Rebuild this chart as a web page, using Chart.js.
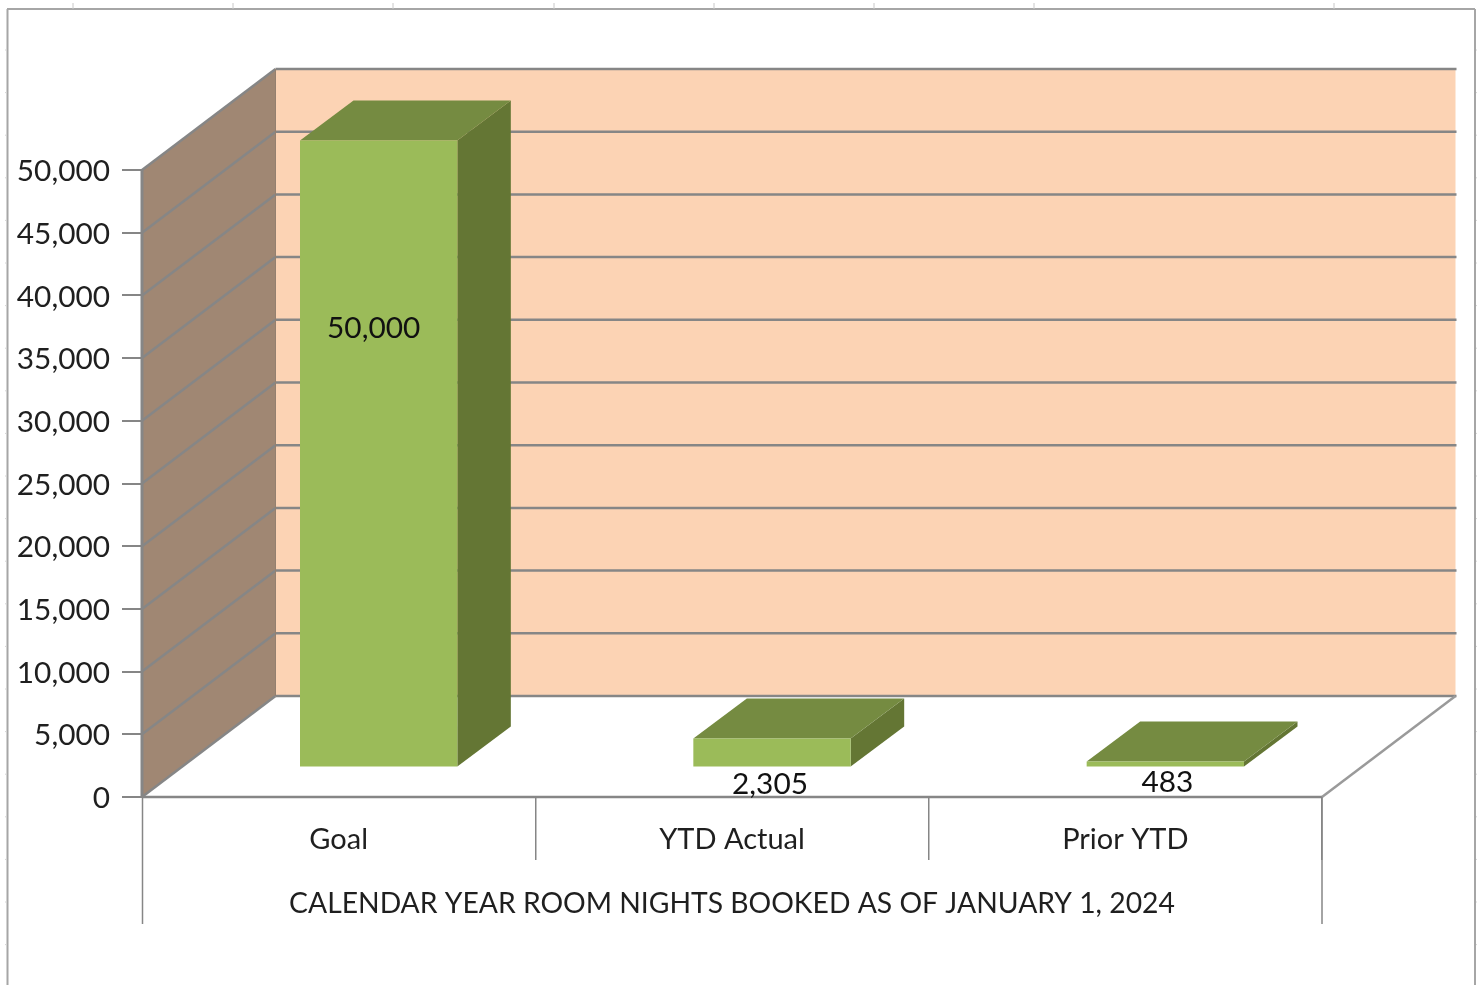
<!DOCTYPE html>
<html>
<head>
<meta charset="utf-8">
<title>Room nights booked</title>
<script src="https://cdn.jsdelivr.net/npm/chart.js@4"></script>
<style>
  html, body { margin: 0; padding: 0; background: #fff; overflow: hidden; }
  canvas { display: block; }
</style>
</head>
<body>
<canvas id="myCanvas" width="1477" height="985"></canvas>
<script>
const categories = ["Goal", "YTD Actual", "Prior YTD"];
const roomNights = [50000, 2305, 483];
const groupLabel = "CALENDAR YEAR ROOM NIGHTS BOOKED AS OF JANUARY 1, 2024";

const fontFamily = "Lato";
const fontSize = 29;
const valueFontSize = 29.8;
const groupFontSize = 28.3;
const textColor = "#1f1f1f";
const lineColor = "#868686";

// the 3d box the plot sits in, relative to the chart area
const wallDepth = { x: 133.5, y: -101 };
const barShift = { x: 40, y: -29.5 };
const barDepth = { x: 53.5, y: -40 };
// data label position, relative to the top centre of each bar front
const labelShift = [[-5, 188], [-2, 46], [2, 21]];

function line(ctx, x1, y1, x2, y2, width, color) {
  ctx.beginPath();
  ctx.moveTo(x1, y1);
  ctx.lineTo(x2, y2);
  ctx.lineWidth = width;
  ctx.strokeStyle = color || lineColor;
  ctx.stroke();
}

function poly(ctx, points, color) {
  ctx.beginPath();
  points.forEach((p, i) => (i ? ctx.lineTo(p[0], p[1]) : ctx.moveTo(p[0], p[1])));
  ctx.closePath();
  ctx.fillStyle = color;
  ctx.fill();
}

const frame3d = {
  id: "frame3d",
  beforeDraw(chart) {
    const ctx = chart.ctx;
    // outer chart frame, cut off at the bottom of the picture
    ctx.save();
    line(ctx, 7.5, 985, 7.5, 9, 2, "#a6a6a6");
    line(ctx, 7, 9, 1475, 9, 2, "#a6a6a6");
    line(ctx, 1475, 9, 1475, 985, 2, "#a6a6a6");
    [73, 233, 393, 554, 714, 874, 1034, 1334].forEach((x) => line(ctx, x, 3, x, 9, 1, "#c8c8c8"));
    for (let y = 50; y < 985; y += 42.6) {
      line(ctx, 5, y, 7, y, 1, "#d4d4d4");
      line(ctx, 1476, y, 1477, y, 1, "#d4d4d4");
    }
    ctx.restore();
  },
  beforeDatasetsDraw(chart) {
    const ctx = chart.ctx;
    const { left, right, top, bottom } = chart.chartArea;
    const dx = wallDepth.x;
    const dy = wallDepth.y;
    const yScale = chart.scales.y;
    ctx.save();
    // back wall, side wall
    poly(ctx, [[left + dx, top + dy], [right + dx, top + dy], [right + dx, bottom + dy], [left + dx, bottom + dy]], "#fcd3b4");
    poly(ctx, [[left, top], [left + dx, top + dy], [left + dx, bottom + dy], [left, bottom]], "#a08773");
    yScale.ticks.forEach((t) => {
      const y = yScale.getPixelForValue(t.value);
      line(ctx, left, y, left + dx, y + dy, 2.5);
      line(ctx, left + dx, y + dy, right + dx + 1, y + dy, 2.5);
    });
    // box outline
    line(ctx, left, top, left, bottom, 3);
    line(ctx, left + dx, top + dy, left + dx, bottom + dy, 1, "#94806f");
    line(ctx, left, bottom, right, bottom, 2.5);
    line(ctx, right, bottom, right + dx, bottom + dy, 2.5, "#9a9a9a");
    // outer dividers running down to the group label
    line(ctx, left + 0.5, bottom, left + 0.5, 924, 1.5);
    line(ctx, right, bottom, right, 924, 1.5);
    ctx.restore();
  },
  beforeDatasetDraw(chart, args) {
    const ctx = chart.ctx;
    ctx.save();
    ctx.translate(barShift.x, barShift.y);
    // top and side of each bar go behind the library's bar front
    args.meta.data.forEach((bar) => {
      const l = bar.x - bar.width / 2;
      const r = bar.x + bar.width / 2;
      const dx = barDepth.x;
      const dy = barDepth.y;
      poly(ctx, [[r, bar.y], [r + dx, bar.y + dy], [r + dx, bar.base + dy], [r, bar.base]], "#647634");
      poly(ctx, [[l, bar.y], [l + dx, bar.y + dy], [r + dx, bar.y + dy], [r, bar.y]], "#758b41");
    });
  },
  afterDatasetDraw(chart, args) {
    const ctx = chart.ctx;
    ctx.font = valueFontSize + "px " + fontFamily;
    ctx.fillStyle = "#111";
    ctx.textAlign = "center";
    ctx.textBaseline = "middle";
    args.meta.data.forEach((bar, i) => {
      ctx.fillText(roomNights[i].toLocaleString("en-US"), bar.x + labelShift[i][0], bar.y + labelShift[i][1]);
    });
    ctx.restore();
  },
};

new Chart(document.getElementById("myCanvas").getContext("2d"), {
  type: "bar",
  data: {
    labels: categories,
    datasets: [
      {
        data: roomNights,
        backgroundColor: "#9bbb59",
        borderWidth: 0,
        categoryPercentage: 1,
        barPercentage: 0.4,
        clip: false,
      },
    ],
  },
  plugins: [frame3d],
  options: {
    responsive: false,
    animation: false,
    layout: { padding: { left: 0, top: 170, right: 155, bottom: 0 } },
    plugins: { legend: { display: false }, tooltip: { enabled: false } },
    font: { family: fontFamily, size: fontSize },
    scales: {
      x: {
        afterFit(scale) {
          scale.height = 188;
        },
        border: { display: false },
        grid: {
          drawOnChartArea: false,
          tickLength: 63,
          lineWidth: 1.5,
          // first and last are the taller outer dividers, drawn by the plugin
          color: (c) => (c.index === 0 || c.index === categories.length ? "transparent" : lineColor),
        },
        ticks: {
          color: textColor,
          font: { family: fontFamily, size: fontSize },
          padding: -38,
          maxRotation: 0,
          autoSkip: false,
        },
        title: {
          display: true,
          text: groupLabel,
          color: textColor,
          font: { family: fontFamily, size: groupFontSize },
          padding: { top: 0, bottom: 64 },
        },
      },
      y: {
        min: 0,
        max: 50000,
        afterFit(scale) {
          scale.width = 142;
        },
        border: { display: false },
        grid: { drawOnChartArea: false, tickLength: 20, color: lineColor, lineWidth: 2 },
        ticks: {
          stepSize: 5000,
          color: textColor,
          font: { family: fontFamily, size: valueFontSize },
          padding: 12,
          labelOffset: 1.5,
          callback: (value) => value.toLocaleString("en-US"),
        },
      },
    },
  },
});
</script>
</body>
</html>
